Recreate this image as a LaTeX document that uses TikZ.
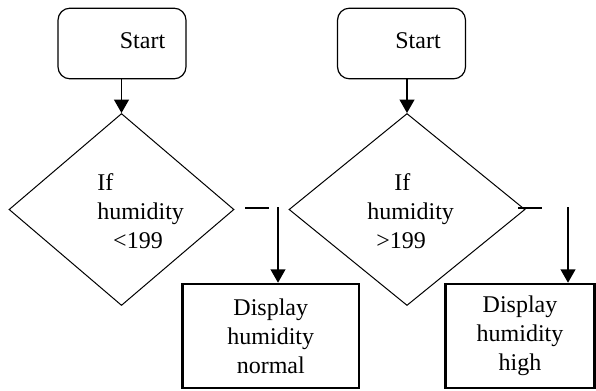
\documentclass[tikz,border=0pt]{standalone}
\usepackage{fontspec}
\setmainfont{Liberation Serif}
\usetikzlibrary{shapes.geometric,arrows.meta}
\begin{document}
\begin{tikzpicture}[x=0.75pt,y=-0.75pt,
  txt/.style={inner sep=0pt,font=\fontsize{18}{21.75}\selectfont},
  startbox/.style={draw,line width=0.9pt,rounded corners=9pt,minimum width=96pt,minimum height=53pt,inner sep=0pt},
  decision/.style={draw,diamond,line width=0.75pt,inner sep=0pt,aspect=1},
  outbox/.style={draw,line width=1.9pt,inner sep=0pt,align=center,font=\fontsize{18}{21.75}\selectfont},
  arr/.style={line width=1.4pt,-{Triangle[width=11pt,length=10pt]}},
  dashline/.style={line width=1.6pt}
]
\useasboundingbox (0,0) rectangle (596,390);
% left flow
\node[startbox] (s1) at (122,43.5) {};
\node[txt,anchor=base] (s1t) at (142.5,48) {Start};
\node[decision,minimum width=168.75pt,minimum height=144pt] (d1) at (121.5,209.5) {};
\node[txt,anchor=base west] (d1a) at (97,190) {If};
\node[txt,anchor=base west] (d1b) at (97,219) {humidity};
\node[txt,anchor=base] (d1c) at (138,248) {<199};
\node[outbox,minimum width=132.5pt,minimum height=78pt] (b1) at (270.75,336) {Display\\humidity\\normal};
\draw[arr] (s1.south -| d1.north) -- (d1.north);
\coordinate (e1a) at (245,208);
\coordinate (e1b) at (269,208);
\coordinate (v1) at (278,207);
\draw[dashline] (e1a) -- (e1b);
\draw[arr] (v1) -- (v1 |- b1.north);
% right flow
\node[startbox] (s2) at (401.5,43.5) {};
\node[txt,anchor=base] (s2t) at (418,48) {Start};
\node[decision,minimum width=177pt,minimum height=144pt] (d2) at (407,209.5) {};
\node[txt,anchor=base west] (d2a) at (394,190) {If};
\node[txt,anchor=base west] (d2b) at (367,219) {humidity};
\node[txt,anchor=base west] (d2c) at (376,248) {>199};
\node[outbox,minimum width=111.75pt,minimum height=78pt] (b2) at (520,336) {Display\\humidity\\high};
\draw[arr] (d2.north |- s2.south) -- (d2.north);
\coordinate (e2a) at (518,208);
\coordinate (e2b) at (542,208);
\coordinate (v2) at (568,207);
\draw[dashline] (e2a) -- (e2b);
\draw[arr] (v2) -- (v2 |- b2.north);
\end{tikzpicture}
\end{document}
